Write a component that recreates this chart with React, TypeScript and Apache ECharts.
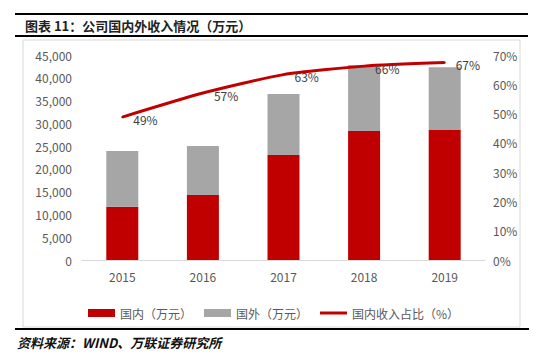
import React, { useEffect, useRef } from "react";
import * as echarts from "echarts";

const categories = ["2015", "2016", "2017", "2018", "2019"];
const domestic = [11700, 14270, 23050, 28320, 28540];
const overseas = [12230, 10750, 13390, 14480, 13760];
const domesticShare = [48.8, 57.0, 63.3, 66.2, 67.4];

const FONT = "'Noto Sans CJK SC', 'Noto Sans', sans-serif";

export default function App() {
  const ref = useRef<HTMLDivElement>(null);
  useEffect(() => {
    if (!ref.current) return;
    const chart = echarts.init(ref.current, undefined, { renderer: "svg" });
    chart.setOption({
      animation: false,
      backgroundColor: "#ffffff",
      textStyle: { fontFamily: FONT },
      graphic: [
        { type: "rect", shape: { x: 15, y: 13, width: 513, height: 2 }, style: { fill: "#000" } },
        { type: "rect", shape: { x: 15, y: 35, width: 513, height: 2 }, style: { fill: "#000" } },
        {
          type: "text",
          x: 25,
          y: 25,
          style: {
            text: "图表 11：公司国内外收入情况（万元）",
            fill: "#222",
            font: `bold 13px ${FONT}`,
            textVerticalAlign: "middle",
          },
        },
        {
          type: "rect",
          shape: { x: 23, y: 40, width: 497, height: 287 },
          style: { fill: "none", stroke: "#D9D9D9", lineWidth: 1 },
          silent: true,
        },
        { type: "rect", shape: { x: 15, y: 328, width: 514, height: 2 }, style: { fill: "#000" } },
        {
          type: "text",
          x: 17,
          y: 342,
          style: {
            text: "资料来源：WIND、万联证券研究所",
            fill: "#111",
            font: `italic bold 13px ${FONT}`,
            textVerticalAlign: "middle",
          },
        },
      ],
      grid: { left: 82, right: 62, top: 55, bottom: 95 },
      legend: {
        left: 83,
        top: 302,
        itemWidth: 27,
        itemHeight: 8,
        itemGap: 12,
        textStyle: { fontFamily: FONT, fontSize: 12, color: "#595959" },
        data: [
          { name: "国内（万元）", icon: "rect" },
          { name: "国外（万元）", icon: "rect" },
          { name: "国内收入占比（%）", icon: "path://M0,0 H27 V3 H0 Z" },
        ],
      },
      xAxis: {
        type: "category",
        data: categories,
        axisLine: { lineStyle: { color: "#D9D9D9" } },
        axisTick: { show: false },
        axisLabel: { color: "#595959", fontSize: 12, margin: 10, fontFamily: FONT },
      },
      yAxis: [
        {
          type: "value",
          min: 0,
          max: 45000,
          interval: 5000,
          splitLine: { show: false },
          axisLine: { show: false },
          axisTick: { show: false },
          axisLabel: {
            color: "#595959",
            fontSize: 12,
            margin: 10,
            fontFamily: FONT,
            formatter: (v: number) => v.toLocaleString("en-US"),
          },
        },
        {
          type: "value",
          min: 0,
          max: 70,
          interval: 10,
          splitLine: { show: false },
          axisLine: { show: false },
          axisTick: { show: false },
          axisLabel: {
            color: "#595959",
            fontSize: 12,
            margin: 8,
            fontFamily: FONT,
            formatter: (v: number) => `${v}%`,
          },
        },
      ],
      series: [
        {
          name: "国内（万元）",
          type: "bar",
          stack: "total",
          barWidth: 32,
          data: domestic,
          itemStyle: { color: "#C00000" },
        },
        {
          name: "国外（万元）",
          type: "bar",
          stack: "total",
          barWidth: 32,
          data: overseas,
          itemStyle: { color: "#A6A6A6" },
        },
        {
          name: "国内收入占比（%）",
          type: "line",
          yAxisIndex: 1,
          data: domesticShare,
          smooth: 0.2,
          symbol: "circle",
          symbolSize: 2,
          showSymbol: true,
          lineStyle: { color: "#C00000", width: 3 },
          itemStyle: { color: "#C00000" },
          label: {
            show: true,
            position: "right",
            distance: 10,
            offset: [0, 2],
            color: "#404040",
            fontSize: 12,
            fontFamily: FONT,
            formatter: (p: any) => `${Math.round(p.value)}%`,
          },
        },
      ],
    });
    return () => chart.dispose();
  }, []);
  return <div ref={ref} style={{ width: 547, height: 355, position: "absolute", left: 0, top: 0 }} />;
}
